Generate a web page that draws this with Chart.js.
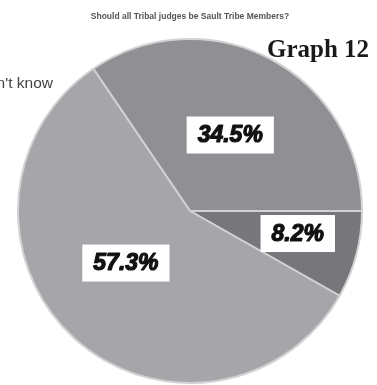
<!DOCTYPE html>
<html><head><meta charset="utf-8">
<script src="https://cdn.jsdelivr.net/npm/chart.js@4"></script>
<style>html,body{margin:0;padding:0;background:#fff}#wrap{width:377px;height:385px;position:relative}</style>
</head><body><div id="wrap"><canvas id="c" width="377" height="385"></canvas></div>
<script>
const categories = ["Yes", "Don't know", "No"];
const values = [34.5, 8.2, 57.3];
const valueLabels = ["34.5%", "8.2%", "57.3%"];
const chartTitle = "Should all Tribal judges be Sault Tribe Members?";
const graphTag = "Graph 12";
const colors = ["#8f8f94", "#76767b", "#a6a6aa"];
// label anchor: fraction along slice angle, fraction of radius
const labelAngleFrac = [0.5, 0.4, 0.54];
const labelRadiusFrac = [0.5, 0.64, 0.48];

const textPlugin = {
  id: 'texts',
  afterDatasetsDraw(chart) {
    const ctx = chart.ctx;
    const meta = chart.getDatasetMeta(0);
    ctx.save();
    meta.data.forEach((arc, i) => {
      const p = arc.getProps(['x','y','startAngle','endAngle','outerRadius'], true);
      const a = p.startAngle + (p.endAngle - p.startAngle) * labelAngleFrac[i];
      const r = p.outerRadius * labelRadiusFrac[i];
      const cx = p.x + Math.cos(a) * r, cy = p.y + Math.sin(a) * r;
      ctx.font = 'italic bold 23px "Liberation Sans"';
      const w = ctx.measureText(valueLabels[i]).width + 22;
      const h = 37;
      ctx.fillStyle = '#ffffff';
      ctx.fillRect(cx - w/2, cy - h/2, w, h);
      ctx.fillStyle = '#111';
      ctx.strokeStyle = '#111';
      ctx.lineWidth = 1.2;
      ctx.lineJoin = 'round';
      ctx.textAlign = 'center'; ctx.textBaseline = 'middle';
      ctx.fillText(valueLabels[i], cx, cy + 1);
      ctx.strokeText(valueLabels[i], cx, cy + 1);
    });
    // title
    ctx.fillStyle = '#555';
    ctx.font = 'bold 8.5px "Liberation Sans"';
    ctx.textAlign = 'center'; ctx.textBaseline = 'middle';
    ctx.fillText(chartTitle, 190, 17);
    // graph tag
    ctx.fillStyle = '#1a1a1a';
    ctx.font = 'bold 25px "Liberation Serif"';
    ctx.textAlign = 'left'; ctx.textBaseline = 'alphabetic';
    ctx.fillText(graphTag, 267, 57);
    // partial legend text
    ctx.fillStyle = '#444';
    ctx.font = '15.5px "Liberation Sans"';
    ctx.textAlign = 'right'; ctx.textBaseline = 'middle';
    ctx.fillText(categories[1], 53, 84);
    ctx.restore();
  }
};

new Chart(document.getElementById('c'), {
  type: 'pie',
  data: { labels: categories, datasets: [{ data: values, backgroundColor: colors, borderColor: '#d2d2d2', borderWidth: 2 }] },
  options: {
    responsive: false, animation: false,
    rotation: -34.2,
    layout: { padding: { left: 17, right: 14, top: 38, bottom: 1 } },
    plugins: { legend: { display: false }, tooltip: { enabled: false }, title: { display: false } }
  },
  plugins: [textPlugin]
});
</script></body></html>
